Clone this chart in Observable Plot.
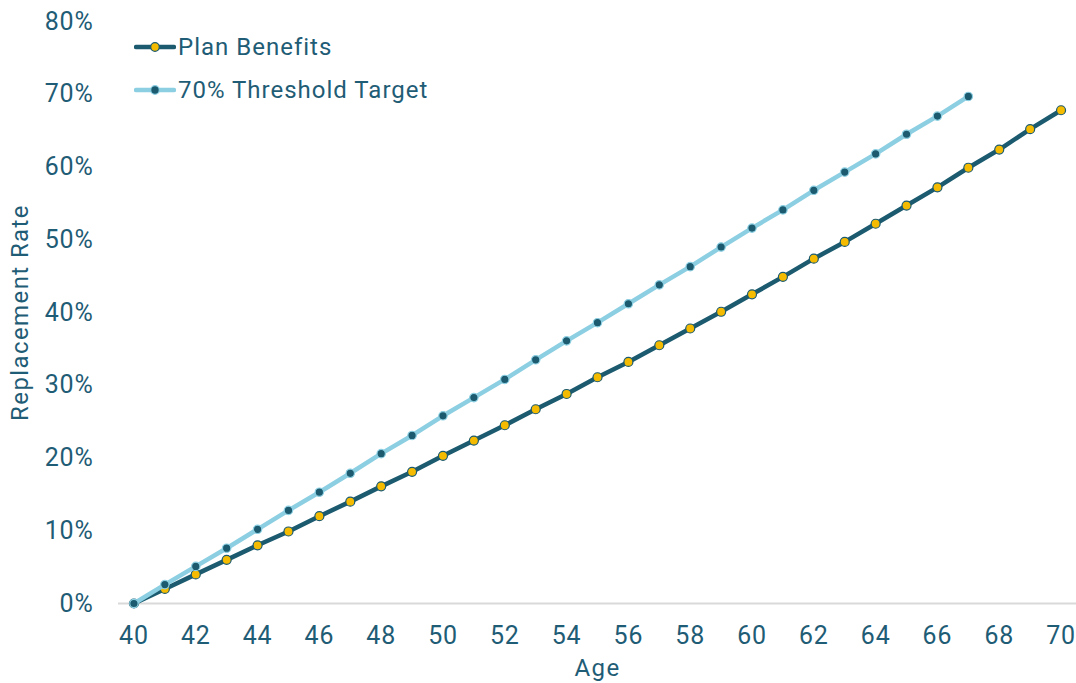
<!DOCTYPE html>
<html>
<head>
<meta charset="utf-8">
<script src="https://cdn.jsdelivr.net/npm/d3@7"></script>
<script src="https://cdn.jsdelivr.net/npm/@observablehq/plot@0.6"></script>
<style>
  html, body { margin: 0; padding: 0; background: #fff; }
  #chart { position: relative; width: 1076px; height: 683px; font-family: Roboto, "Noto Sans", sans-serif; color: #1f5c75; }
  #chart g[aria-label="x-axis tick label"] text,
  #chart g[aria-label="y-axis tick label"] text { letter-spacing: 0.8px; }
  #chart g[aria-label="x-axis label"] text,
  #chart g[aria-label="y-axis label"] text { letter-spacing: 1.4px; }
  .legend { position: absolute; left: 134px; top: 25px; font-size: 24px; letter-spacing: 1px; }
  .legend .row { display: flex; align-items: center; height: 43.5px; }
  .legend svg { margin-right: 2px; }
</style>
</head>
<body>
<div id="chart"></div>
<script>
// Ages on the horizontal axis
const ages = [40, 41, 42, 43, 44, 45, 46, 47, 48, 49, 50, 51, 52, 53, 54, 55,
              56, 57, 58, 59, 60, 61, 62, 63, 64, 65, 66, 67, 68, 69, 70];

// Replacement rate (%) delivered by the plan, ages 40–70
const planBenefits = [0, 2.0, 4.0, 6.0, 8.0, 9.9, 12.0, 14.0, 16.1, 18.1, 20.3,
                      22.4, 24.5, 26.7, 28.8, 31.1, 33.2, 35.5, 37.8, 40.1, 42.5,
                      44.9, 47.4, 49.7, 52.2, 54.7, 57.2, 59.9, 62.4, 65.2, 67.8];

// Replacement rate (%) needed to reach the 70% threshold, ages 40–67
const thresholdTarget = [0, 2.6, 5.1, 7.6, 10.2, 12.8, 15.3, 17.9, 20.6, 23.1,
                         25.8, 28.3, 30.8, 33.5, 36.1, 38.6, 41.2, 43.8, 46.3,
                         49.0, 51.6, 54.1, 56.8, 59.3, 61.8, 64.5, 67.0, 69.7];

const seriesNames = ["Plan Benefits", "70% Threshold Target"];
const yTicks = [0, 10, 20, 30, 40, 50, 60, 70, 80];
const xTicks = [40, 42, 44, 46, 48, 50, 52, 54, 56, 58, 60, 62, 64, 66, 68, 70];

const textColor = "#1f5c75";
const darkTeal = "#1b5a6f";
const lightBlue = "#8ccfe2";
const gold = "#f5bb00";

const plan = planBenefits.map((v, i) => ({age: ages[i], rate: v}));
const target = thresholdTarget.map((v, i) => ({age: ages[i], rate: v}));

const chart = Plot.plot({
  width: 1076,
  height: 683,
  marginLeft: 118,
  marginRight: 0,
  marginTop: 21,
  marginBottom: 80,
  style: {fontFamily: "Roboto, 'Noto Sans', sans-serif", fontSize: "25px", color: textColor, background: "#fff"},
  x: {domain: [39.5, 70.5]},
  y: {domain: [0, 80]},
  marks: [
    Plot.axisX({ticks: xTicks, tickSize: 0, tickPadding: 23, tickFormat: d => String(d), fontSize: 25,
                label: null}),
    Plot.axisX({ticks: [], tickSize: 0, label: "Age", labelAnchor: "center", labelArrow: "none",
                labelOffset: 72, fontSize: 24}),
    Plot.axisY({ticks: yTicks, tickSize: 0, tickPadding: 25, tickFormat: d => d + "%", fontSize: 25,
                label: null}),
    Plot.axisY({ticks: [], tickSize: 0, label: "Replacement Rate", labelAnchor: "center", labelArrow: "none",
                labelOffset: 108, fontSize: 24}),
    Plot.ruleY([0], {stroke: "#d9d9d9", strokeWidth: 2}),
    Plot.line(plan, {x: "age", y: "rate", stroke: darkTeal, strokeWidth: 4.5}),
    Plot.dot(plan, {x: "age", y: "rate", r: 4.5, fill: gold, stroke: darkTeal, strokeWidth: 1.2}),
    Plot.line(target, {x: "age", y: "rate", stroke: lightBlue, strokeWidth: 4.5}),
    Plot.dot(target, {x: "age", y: "rate", r: 4.2, fill: darkTeal, stroke: lightBlue, strokeWidth: 1.2})
  ]
});

const host = document.getElementById("chart");
host.appendChild(chart);

// Legend drawn over the upper-left of the plot area
const legend = document.createElement("div");
legend.className = "legend";
const swatches = [
  {line: darkTeal, fill: gold, stroke: darkTeal},
  {line: lightBlue, fill: darkTeal, stroke: lightBlue}
];
seriesNames.forEach((name, i) => {
  const s = swatches[i];
  const row = document.createElement("div");
  row.className = "row";
  row.innerHTML =
    `<svg width="42" height="14" viewBox="0 0 42 14">
       <line x1="2" y1="7" x2="40" y2="7" stroke="${s.line}" stroke-width="4.5" stroke-linecap="round"/>
       <circle cx="21" cy="7" r="4.3" fill="${s.fill}" stroke="${s.stroke}" stroke-width="1.2"/>
     </svg><span>${name}</span>`;
  legend.appendChild(row);
});
host.appendChild(legend);
</script>
</body>
</html>
